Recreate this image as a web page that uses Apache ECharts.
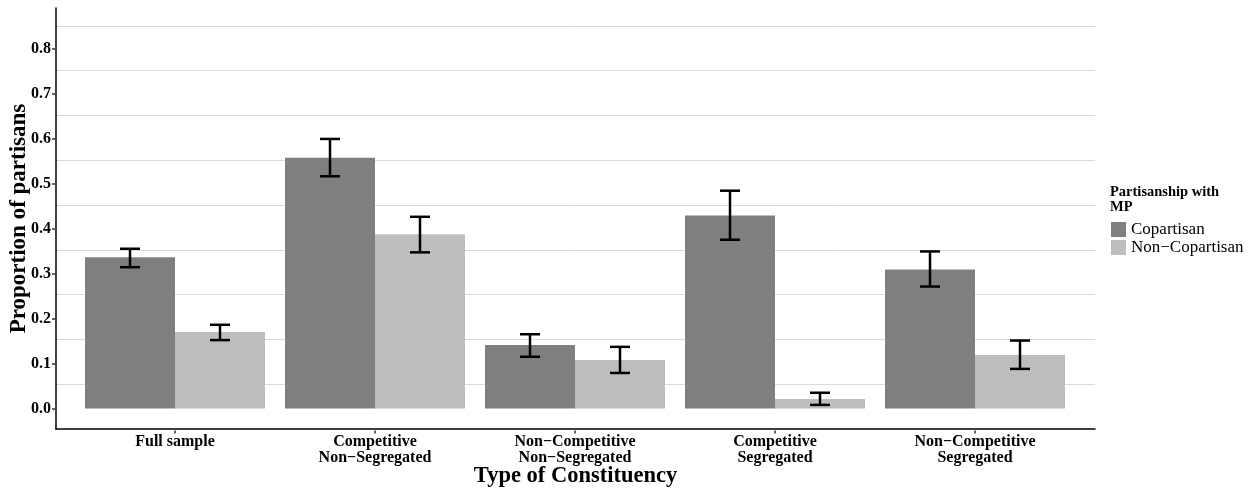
<!DOCTYPE html>
<html>
<head>
<meta charset="utf-8">
<script src="https://cdn.jsdelivr.net/npm/echarts@6/dist/echarts.min.js"></script>
<style>
html,body{margin:0;padding:0;background:#fff;}
#chart{width:1249px;height:493px;}
</style>
</head>
<body>
<div id="chart"></div>
<script>
const categories = ['Full sample', 'Competitive\nNon\u2212Segregated', 'Non\u2212Competitive\nNon\u2212Segregated', 'Competitive\nSegregated', 'Non\u2212Competitive\nSegregated'];
const seriesNames = ['Copartisan', 'Non\u2212Copartisan'];
const copartisan = [0.336, 0.557, 0.141, 0.429, 0.309];
const copLow     = [0.314, 0.516, 0.115, 0.375, 0.271];
const copHigh    = [0.355, 0.599, 0.165, 0.484, 0.349];
const nonCop     = [0.170, 0.387, 0.108, 0.021, 0.119];
const nonLow     = [0.152, 0.347, 0.079, 0.008, 0.088];
const nonHigh    = [0.186, 0.426, 0.137, 0.035, 0.151];
const yTicks = [0, 0.1, 0.2, 0.3, 0.4, 0.5, 0.6, 0.7, 0.8];

const serif = 'Liberation Serif';

function errData(low, high) {
  return categories.map((c, i) => [i, low[i], high[i]]);
}
function errRender(sign) {
  return function (params, api) {
    const idx = api.value(0);
    const band = api.size([1, 0])[0];
    const cx = api.coord([idx, 0])[0] + sign * band * 0.225;
    const yl = api.coord([idx, api.value(1)])[1];
    const yh = api.coord([idx, api.value(2)])[1];
    const cap = band * 0.05;
    const style = { stroke: '#000', lineWidth: 2.5 };
    return {
      type: 'group',
      children: [
        { type: 'line', shape: { x1: cx, y1: yl, x2: cx, y2: yh }, style: style },
        { type: 'line', shape: { x1: cx - cap, y1: yl, x2: cx + cap, y2: yl }, style: style },
        { type: 'line', shape: { x1: cx - cap, y1: yh, x2: cx + cap, y2: yh }, style: style }
      ]
    };
  };
}

const chart = echarts.init(document.getElementById('chart'), null, { renderer: 'canvas' });
chart.setOption({
  animation: false,
  backgroundColor: '#fff',
  title: {
    text: 'Partisanship with\nMP',
    left: 1110, top: 185,
    padding: 0,
    textStyle: { fontFamily: serif, fontWeight: 'bold', fontSize: 14.5, lineHeight: 15, color: '#000' }
  },
  legend: {
    data: seriesNames,
    orient: 'vertical',
    left: 1111, top: 221,
    padding: 0,
    icon: 'rect',
    itemWidth: 15, itemHeight: 15, itemGap: 1,
    textStyle: { fontFamily: serif, fontSize: 17, lineHeight: 15, color: '#000' }
  },
  grid: [
    { left: 55, right: 154, top: 8, bottom: 62, containLabel: false },
    { left: 75, right: 174, top: 48.5, bottom: 84.5, containLabel: false }
  ],
  xAxis: [
    {
      gridIndex: 0, type: 'value', min: 0.4, max: 5.6,
      axisLine: { show: true, onZero: false, lineStyle: { color: '#000', width: 1.5 } },
      axisTick: { show: false }, axisLabel: { show: false }, splitLine: { show: false },
      name: 'Type of Constituency', nameLocation: 'middle', nameGap: 36,
      nameTextStyle: { fontFamily: serif, fontWeight: 'bold', fontSize: 22.5, color: '#000' }
    },
    {
      gridIndex: 1, type: 'category', data: categories, boundaryGap: true,
      offset: 22,
      axisLine: { show: false, onZero: false },
      axisTick: { show: true, alignWithLabel: true, length: 3, lineStyle: { color: '#333', width: 1.5 } },
      axisLabel: { margin: 3, fontFamily: serif, fontWeight: 'bold', fontSize: 16, lineHeight: 16, color: '#000', interval: 0 },
      splitLine: { show: false }
    }
  ],
  yAxis: [
    {
      gridIndex: 0, type: 'value', min: -0.05, max: 0.89, interval: 0.1,
      axisLine: { show: true, onZero: false, lineStyle: { color: '#000', width: 1.5 } },
      axisTick: { show: false }, axisLabel: { show: false },
      splitLine: { show: true, showMinLine: false, showMaxLine: false, lineStyle: { color: '#d9d9d9', width: 1 } },
      name: 'Proportion of partisans', nameLocation: 'middle', nameGap: 25, nameRotate: 90,
      nameTextStyle: { fontFamily: serif, fontWeight: 'bold', fontSize: 23, color: '#000' }
    },
    {
      gridIndex: 1, type: 'value', min: yTicks[0], max: yTicks[yTicks.length - 1], interval: 0.1,
      offset: 20,
      axisLine: { show: false, onZero: false },
      axisTick: { show: true, length: 3, lineStyle: { color: '#333', width: 1.5 } },
      axisLabel: { margin: 4, fontFamily: serif, fontWeight: 'bold', fontSize: 16, color: '#000',
        formatter: v => v.toFixed(1) },
      splitLine: { show: false }
    }
  ],
  series: [
    {
      name: seriesNames[0], type: 'bar', xAxisIndex: 1, yAxisIndex: 1,
      data: copartisan, barGap: '0%', barCategoryGap: '10%',
      itemStyle: { color: '#7f7f7f' }
    },
    {
      name: seriesNames[1], type: 'bar', xAxisIndex: 1, yAxisIndex: 1,
      data: nonCop, barGap: '0%', barCategoryGap: '10%',
      itemStyle: { color: '#bebebe' }
    },
    {
      name: 'copErr', type: 'custom', xAxisIndex: 1, yAxisIndex: 1, z: 5,
      data: errData(copLow, copHigh), renderItem: errRender(-1), clip: false
    },
    {
      name: 'nonErr', type: 'custom', xAxisIndex: 1, yAxisIndex: 1, z: 5,
      data: errData(nonLow, nonHigh), renderItem: errRender(1), clip: false
    }
  ]
});
</script>
</body>
</html>
